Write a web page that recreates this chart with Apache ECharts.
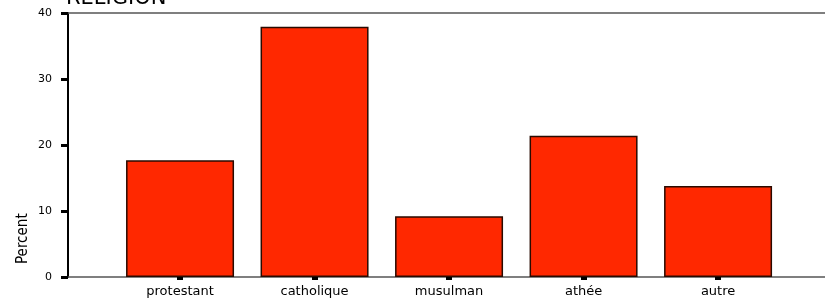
<!DOCTYPE html>
<html>
<head>
<meta charset="utf-8">
<script src="https://cdn.jsdelivr.net/npm/echarts@6/dist/echarts.min.js"></script>
<style>
  html, body { margin: 0; padding: 0; background: #fff; }
  #chart { width: 825px; height: 298px; }
</style>
</head>
<body>
<div id="chart"></div>
<script>
// données
const categories = ['protestant', 'catholique', 'musulman', 'athée', 'autre']
const percents = [17.7, 37.9, 9.2, 21.4, 13.8]
const yTicks = [0, 10, 20, 30, 40]
const titleText = 'RELIGION'
const yName = 'Percent'

const chart = echarts.init(document.getElementById('chart'), null, { renderer: 'canvas' })

const labelFont = "'DejaVu Sans', Verdana, sans-serif"
const catIndex = categories.map((c, i) => i)

chart.setOption({
    animation: false,
    grid: {
        left: 68,
        top: 13,
        right: 0,
        bottom: 21,
        show: false
    },
    xAxis: [
        {
            type: 'value',
            min: -0.833,
            max: 4.795,
            splitLine: { show: false },
            axisLine: { show: true, onZero: false, lineStyle: { color: '#555', width: 1.5 } },
            axisTick: {
                show: true,
                customValues: catIndex,
                length: 3,
                lineStyle: { color: '#000', width: 6 }
            },
            axisLabel: {
                customValues: catIndex,
                formatter: v => categories[v],
                margin: 8,
                color: '#000',
                fontSize: 13,
                fontFamily: labelFont
            }
        },
        {
            // ligne du haut
            type: 'value',
            position: 'top',
            min: -0.833,
            max: 4.795,
            splitLine: { show: false },
            axisLine: { show: true, onZero: false, lineStyle: { color: '#555', width: 1.5 } },
            axisTick: { show: false },
            axisLabel: { show: false }
        }
    ],
    yAxis: {
        type: 'value',
        min: yTicks[0],
        max: yTicks[yTicks.length - 1],
        interval: 10,
        splitLine: { show: false },
        axisLine: { show: true, onZero: false, lineStyle: { color: '#000', width: 2 } },
        axisTick: { show: true, length: 7, lineStyle: { color: '#000', width: 3 } },
        axisLabel: {
            margin: 16,
            color: '#000',
            fontSize: 11,
            fontFamily: labelFont
        }
    },
    graphic: [
        {
            type: 'text',
            x: 66,
            y: 9,
            style: {
                text: titleText,
                fill: '#000',
                font: "21px 'DejaVu Sans', sans-serif",
                textVerticalAlign: 'bottom'
            }
        },
        {
            type: 'text',
            x: 31,
            y: 264,
            rotation: Math.PI / 2,
            style: {
                text: yName,
                fill: '#000',
                font: "15px 'Liberation Sans Narrow', 'DejaVu Sans Condensed', sans-serif",
                textAlign: 'left',
                textVerticalAlign: 'bottom'
            }
        }
    ],
    series: [
        {
            type: 'bar',
            barWidth: 108,
            data: percents.map((v, i) => [i, v]),
            itemStyle: {
                color: '#ff2800',
                borderColor: '#2a0a00',
                borderWidth: 1.5
            }
        }
    ]
})
</script>
</body>
</html>
